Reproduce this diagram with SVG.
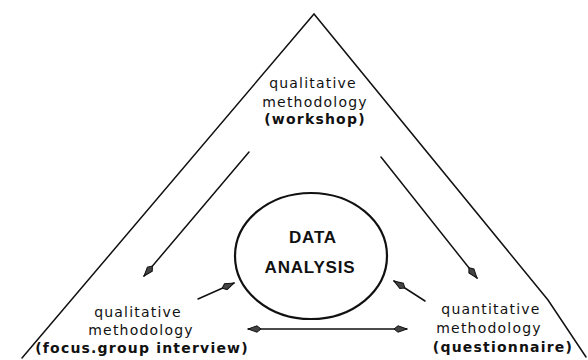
<svg xmlns="http://www.w3.org/2000/svg" width="588" height="360" viewBox="0 0 588 360">
  <style>
    .edge { fill: none; stroke: #111; stroke-width: 1.5; stroke-linecap: round; }
    .ring { fill: none; stroke: #111; stroke-width: 2.2; }
    .lbl { font-family: "DejaVu Sans", "Liberation Sans", sans-serif; font-size: 14px; fill: #111; text-anchor: middle; letter-spacing: 1.2px; }
    .lbl-b { font-weight: bold; }
    .core { font-family: "Liberation Sans", "DejaVu Sans", sans-serif; font-weight: bold; font-size: 17px; fill: #111; text-anchor: middle; letter-spacing: 0.8px; }
  </style>
  <defs>
    <marker id="head" viewBox="0 0 14 8" refX="13" refY="4" markerWidth="14" markerHeight="8" markerUnits="userSpaceOnUse" orient="auto-start-reverse">
      <path d="M0,4 L4,0.8 L13,4 L4,7.2 Z" fill="#444" stroke="#111" stroke-width="1"/>
    </marker>
  </defs>

  <rect width="588" height="360" fill="#fff"/>

  <!-- outer triangle (two sides, open base) -->
  <g id="frame">
    <path class="edge" d="M22,358 L314,14 L548,300 L586,357"/>
  </g>

  <!-- central hub -->
  <g id="data-analysis">
    <ellipse class="ring" cx="311" cy="256" rx="76" ry="63"/>
    <text class="core" x="313" y="243">DATA</text>
    <text class="core" x="310" y="273">ANALYSIS</text>
  </g>

  <g id="workshop">
    <text class="lbl" x="313" y="88">qualitative</text>
    <text class="lbl" x="315" y="107">methodology</text>
    <text class="lbl lbl-b" x="315" y="124">(workshop)</text>
  </g>

  <g id="focus-group">
    <text class="lbl" x="138" y="317">qualitative</text>
    <text class="lbl" x="141" y="335">methodology</text>
    <text class="lbl lbl-b" x="142" y="353">(focus.group interview)</text>
  </g>

  <g id="questionnaire">
    <text class="lbl" x="491" y="314">quantitative</text>
    <text class="lbl" x="489" y="333">methodology</text>
    <text class="lbl lbl-b" x="503" y="352">(questionnaire)</text>
  </g>

  <!-- connectors -->
  <g id="connectors">
    <line class="edge" x1="249" y1="152" x2="144" y2="276" marker-end="url(#head)"/>
    <line class="edge" x1="381" y1="157" x2="477" y2="278" marker-end="url(#head)"/>
    <line class="edge" x1="198" y1="299" x2="234" y2="283" marker-end="url(#head)"/>
    <line class="edge" x1="425" y1="301" x2="394" y2="281" marker-end="url(#head)"/>
    <line class="edge" x1="248" y1="329" x2="407" y2="329" marker-start="url(#head)" marker-end="url(#head)"/>
  </g>
</svg>
